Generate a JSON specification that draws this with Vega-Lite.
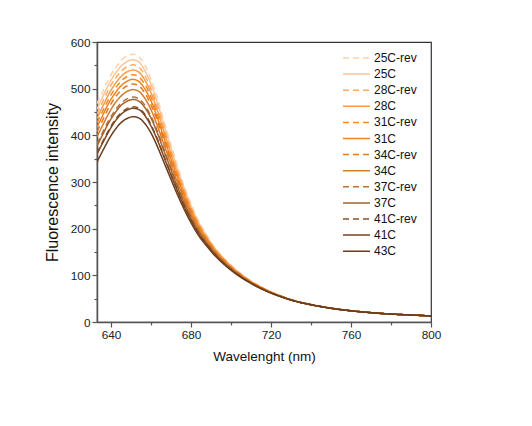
{
  "$schema": "https://vega.github.io/schema/vega-lite/v6.json",
  "width": 334,
  "height": 280,
  "autosize": {"type": "none"},
  "padding": {"left": 97, "top": 42, "right": 101, "bottom": 104},
  "background": "white",
  "config": {
    "font": "Liberation Sans",
    "view": {"stroke": "#333333", "strokeWidth": 1.2},
    "axis": {
      "domainColor": "#555555", "domainWidth": 1.5, "tickColor": "#555555", "tickWidth": 1.2,
      "labelFontSize": 11.8, "labelColor": "#222222", "titleFontSize": 13.5, "titleFontWeight": "normal",
      "titleColor": "#111111", "grid": false, "labelPadding": 2
    }
  },
  "data": {
    "values": [
      {"w":633,"25C-rev":468,"25C":456,"28C-rev":446,"28C":436,"31C-rev":427,"31C":417,"34C-rev":408,"34C":397,"37C-rev":382,"37C":377,"41C-rev":362,"41C":360,"43C":343},
      {"w":636,"25C-rev":495,"25C":484,"28C-rev":473,"28C":463,"31C-rev":453,"31C":444,"34C-rev":434,"34C":423,"37C-rev":408,"37C":403,"41C-rev":388,"41C":385,"43C":368},
      {"w":639,"25C-rev":522,"25C":510,"28C-rev":500,"28C":489,"31C-rev":479,"31C":470,"34C-rev":460,"34C":448,"37C-rev":433,"37C":428,"41C-rev":412,"41C":409,"43C":392},
      {"w":642,"25C-rev":543,"25C":532,"28C-rev":521,"28C":510,"31C-rev":500,"31C":490,"34C-rev":481,"34C":469,"37C-rev":453,"37C":448,"41C-rev":433,"41C":430,"43C":412},
      {"w":645,"25C-rev":560,"25C":548,"28C-rev":537,"28C":526,"31C-rev":516,"31C":506,"34C-rev":496,"34C":484,"37C-rev":469,"37C":464,"41C-rev":448,"41C":445,"43C":427},
      {"w":648,"25C-rev":570,"25C":558,"28C-rev":547,"28C":536,"31C-rev":526,"31C":516,"34C-rev":506,"34C":494,"37C-rev":478,"37C":473,"41C-rev":457,"41C":454,"43C":436},
      {"w":651,"25C-rev":574,"25C":562,"28C-rev":551,"28C":540,"31C-rev":530,"31C":520,"34C-rev":510,"34C":498,"37C-rev":482,"37C":477,"41C-rev":461,"41C":458,"43C":440},
      {"w":654,"25C-rev":568,"25C":557,"28C-rev":546,"28C":535,"31C-rev":525,"31C":515,"34C-rev":506,"34C":494,"37C-rev":478,"37C":473,"41C-rev":458,"41C":455,"43C":437},
      {"w":657,"25C-rev":550,"25C":538,"28C-rev":528,"28C":518,"31C-rev":509,"31C":499,"34C-rev":490,"34C":479,"37C-rev":464,"37C":459,"41C-rev":445,"41C":442,"43C":425},
      {"w":660,"25C-rev":520,"25C":510,"28C-rev":500,"28C":491,"31C-rev":482,"31C":474,"34C-rev":465,"34C":455,"37C-rev":441,"37C":437,"41C-rev":423,"41C":420,"43C":405},
      {"w":663,"25C-rev":483,"25C":473,"28C-rev":465,"28C":456,"31C-rev":448,"31C":440,"34C-rev":433,"34C":423,"37C-rev":411,"37C":407,"41C-rev":394,"41C":392,"43C":378},
      {"w":666,"25C-rev":438,"25C":430,"28C-rev":423,"28C":415,"31C-rev":408,"31C":401,"34C-rev":395,"34C":386,"37C-rev":376,"37C":372,"41C-rev":361,"41C":359,"43C":347},
      {"w":669,"25C-rev":394,"25C":387,"28C-rev":380,"28C":374,"31C-rev":368,"31C":362,"34C-rev":357,"34C":350,"37C-rev":340,"37C":338,"41C-rev":328,"41C":326,"43C":316},
      {"w":672,"25C-rev":351,"25C":345,"28C-rev":339,"28C":334,"31C-rev":329,"31C":324,"34C-rev":319,"34C":313,"37C-rev":306,"37C":303,"41C-rev":295,"41C":294,"43C":285},
      {"w":675,"25C-rev":311,"25C":306,"28C-rev":302,"28C":297,"31C-rev":293,"31C":289,"34C-rev":285,"34C":280,"37C-rev":273,"37C":271,"41C-rev":265,"41C":263,"43C":256},
      {"w":678,"25C-rev":275,"25C":271,"28C-rev":267,"28C":263,"31C-rev":260,"31C":256,"34C-rev":253,"34C":249,"37C-rev":243,"37C":242,"41C-rev":236,"41C":235,"43C":229},
      {"w":681,"25C-rev":243,"25C":239,"28C-rev":236,"28C":233,"31C-rev":230,"31C":227,"34C-rev":225,"34C":221,"37C-rev":217,"37C":215,"41C-rev":211,"41C":210,"43C":205},
      {"w":684,"25C-rev":215,"25C":212,"28C-rev":210,"28C":207,"31C-rev":205,"31C":202,"34C-rev":200,"34C":197,"37C-rev":194,"37C":193,"41C-rev":189,"41C":188,"43C":184},
      {"w":688,"25C-rev":185,"25C":183,"28C-rev":181,"28C":179,"31C-rev":177,"31C":176,"34C-rev":174,"34C":172,"37C-rev":169,"37C":168,"41C-rev":166,"41C":165,"43C":162},
      {"w":692,"25C-rev":159,"25C":158,"28C-rev":156,"28C":155,"31C-rev":154,"31C":152,"34C-rev":151,"34C":150,"37C-rev":148,"37C":147,"41C-rev":145,"41C":144,"43C":142},
      {"w":696,"25C-rev":139,"25C":138,"28C-rev":137,"28C":136,"31C-rev":135,"31C":134,"34C-rev":133,"34C":131,"37C-rev":130,"37C":129,"41C-rev":128,"41C":127,"43C":125.5},
      {"w":700,"25C-rev":122,"25C":121,"28C-rev":120,"28C":119,"31C-rev":118,"31C":117,"34C-rev":117,"34C":116,"37C-rev":114,"37C":114,"41C-rev":113,"41C":112,"43C":111},
      {"w":705,"25C-rev":103.5,"25C":103,"28C-rev":102,"28C":101.5,"31C-rev":101,"31C":100.3,"34C-rev":99.7,"34C":99,"37C-rev":98,"37C":97.7,"41C-rev":96.8,"41C":96.6,"43C":95.5},
      {"w":710,"25C-rev":87.9,"25C":87.4,"28C-rev":86.9,"28C":86.5,"31C-rev":86.1,"31C":85.7,"34C-rev":85.3,"34C":84.8,"37C-rev":84.2,"37C":84,"41C-rev":83.3,"41C":83.2,"43C":82.5},
      {"w":715,"25C-rev":75.5,"25C":75.2,"28C-rev":74.8,"28C":74.5,"31C-rev":74.2,"31C":73.9,"34C-rev":73.6,"34C":73.2,"37C-rev":72.8,"37C":72.6,"41C-rev":72.1,"41C":72,"43C":71.5},
      {"w":720,"25C-rev":64.7,"25C":64.4,"28C-rev":64.2,"28C":64,"31C-rev":63.8,"31C":63.6,"34C-rev":63.4,"34C":63.2,"37C-rev":62.8,"37C":62.7,"41C-rev":62.4,"41C":62.4,"43C":62},
      {"w":725,"25C-rev":56,"25C":55.8,"28C-rev":55.7,"28C":55.5,"31C-rev":55.4,"31C":55.2,"34C-rev":55,"34C":54.9,"37C-rev":54.6,"37C":54.6,"41C-rev":54.3,"41C":54.3,"43C":54},
      {"w":730,"25C-rev":48.3,"25C":48.2,"28C-rev":48.1,"28C":48,"31C-rev":47.9,"31C":47.8,"34C-rev":47.7,"34C":47.6,"37C-rev":47.4,"37C":47.4,"41C-rev":47.2,"41C":47.2,"43C":47},
      {"w":740,"25C-rev":37.5,"25C":37.4,"28C-rev":37.3,"28C":37.3,"31C-rev":37.2,"31C":37.2,"34C-rev":37.1,"34C":37.1,"37C-rev":37,"37C":37,"41C-rev":37,"41C":37,"43C":37},
      {"w":750,"25C-rev":29.5,"25C":29.5,"28C-rev":29.5,"28C":29.5,"31C-rev":29.5,"31C":29.5,"34C-rev":29.5,"34C":29.5,"37C-rev":29.5,"37C":29.5,"41C-rev":29.5,"41C":29.5,"43C":29.5},
      {"w":760,"25C-rev":24,"25C":24,"28C-rev":24,"28C":24,"31C-rev":24,"31C":24,"34C-rev":24,"34C":24,"37C-rev":24,"37C":24,"41C-rev":24,"41C":24,"43C":24},
      {"w":770,"25C-rev":20,"25C":20,"28C-rev":20,"28C":20,"31C-rev":20,"31C":20,"34C-rev":20,"34C":20,"37C-rev":20,"37C":20,"41C-rev":20,"41C":20,"43C":20},
      {"w":780,"25C-rev":17,"25C":17,"28C-rev":17,"28C":17,"31C-rev":17,"31C":17,"34C-rev":17,"34C":17,"37C-rev":17,"37C":17,"41C-rev":17,"41C":17,"43C":17},
      {"w":790,"25C-rev":15,"25C":15,"28C-rev":15,"28C":15,"31C-rev":15,"31C":15,"34C-rev":15,"34C":15,"37C-rev":15,"37C":15,"41C-rev":15,"41C":15,"43C":15},
      {"w":800,"25C-rev":13,"25C":13,"28C-rev":13,"28C":13,"31C-rev":13,"31C":13,"34C-rev":13,"34C":13,"37C-rev":13,"37C":13,"41C-rev":13,"41C":13,"43C":13}
    ]
  },
  "transform": [
    {"fold": ["25C-rev","25C","28C-rev","28C","31C-rev","31C","34C-rev","34C","37C-rev","37C","41C-rev","41C","43C"], "as": ["s", "v"]}
  ],
  "mark": {"type": "line", "strokeWidth": 1.5, "interpolate": "monotone", "clip": true},
  "encoding": {
    "x": {
      "field": "w", "type": "quantitative",
      "scale": {"domain": [633, 800], "nice": false, "zero": false},
      "axis": {
        "title": "Wavelenght (nm)", "titlePadding": 9,
        "values": [640, 660, 680, 700, 720, 740, 760, 780, 800],
        "labelExpr": "datum.value % 40 == 0 ? datum.label : ''",
        "tickSize": {"condition": {"test": "datum.value % 40 == 0", "value": 5}, "value": 3},
        "labelFlush": false, "labelOverlap": false
      }
    },
    "y": {
      "field": "v", "type": "quantitative",
      "scale": {"domain": [0, 600], "nice": false},
      "axis": {
        "title": "Fluorescence intensity", "titlePadding": 10, "titleFontSize": 16,
        "values": [0, 50, 100, 150, 200, 250, 300, 350, 400, 450, 500, 550, 600],
        "labelExpr": "datum.value % 100 == 0 ? datum.label : ''",
        "tickSize": {"condition": {"test": "datum.value % 100 == 0", "value": 5}, "value": 3},
        "labelFlush": false, "labelOverlap": false
      }
    },
    "color": {
      "field": "s", "type": "nominal",
      "scale": {
        "domain": ["25C-rev","25C","28C-rev","28C","31C-rev","31C","34C-rev","34C","37C-rev","37C","41C-rev","41C","43C"],
        "range": ["#fdd3ad","#fcc597","#fdaa62","#fb9c45","#f98a22","#f4821a","#e27b22","#d47c30","#b8703a","#a6622b","#8b5229","#7a4722","#6a3c1f"]
      },
      "legend": {
        "title": null, "orient": "none", "legendX": 245, "legendY": 8,
        "symbolType": "stroke", "symbolSize": 729, "symbolStrokeWidth": 1.5,
        "labelFontSize": 12, "labelColor": "#111111", "labelOffset": 3,
        "clipHeight": 16, "rowPadding": 0.1
      }
    },
    "strokeDash": {
      "field": "s", "type": "nominal",
      "scale": {
        "domain": ["25C-rev","25C","28C-rev","28C","31C-rev","31C","34C-rev","34C","37C-rev","37C","41C-rev","41C","43C"],
        "range": [[6,4],[1,0],[6,4],[1,0],[6,4],[1,0],[6,4],[1,0],[6,4],[1,0],[6,4],[1,0],[1,0]]
      },
      "legend": {
        "title": null, "orient": "none", "legendX": 245, "legendY": 8,
        "symbolType": "stroke", "symbolSize": 729, "symbolStrokeWidth": 1.5,
        "labelFontSize": 12, "labelColor": "#111111", "labelOffset": 3,
        "clipHeight": 16, "rowPadding": 0.1
      }
    }
  }
}
